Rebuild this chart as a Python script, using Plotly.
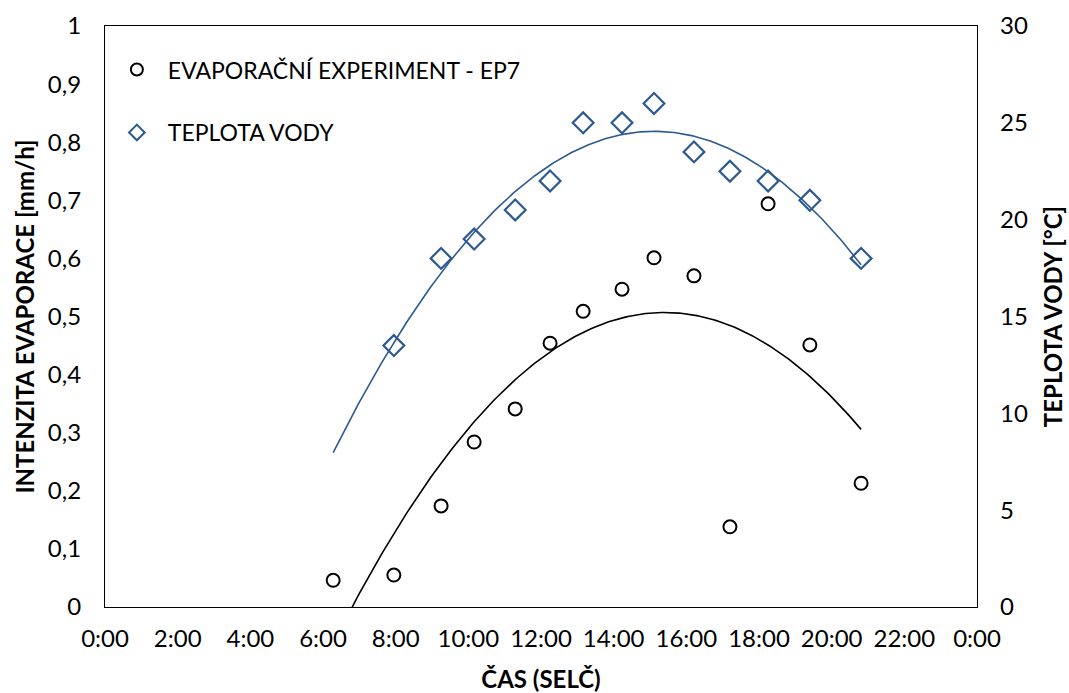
import numpy as np
import plotly.graph_objects as go

# Measurement times in decimal hours
time_h = [6.28, 7.95, 9.25, 10.16, 11.29, 12.25, 13.16, 14.23, 15.11, 16.21, 17.20, 18.25, 19.40, 20.81]
# Evaporation intensity [mm/h]
evaporation = [0.046, 0.055, 0.174, 0.284, 0.341, 0.454, 0.509, 0.547, 0.601, 0.570, 0.138, 0.694, 0.451, 0.213]
# Water temperature [°C] (no reading at the first time)
water_temp = [None, 13.5, 18.0, 19.0, 20.5, 22.0, 25.0, 25.0, 26.0, 23.5, 22.5, 22.0, 21.0, 18.0]

tick_vals = list(range(0, 25, 2))
tick_text = ["0:00", "2:00", "4:00", "6:00", "8:00", "10:00", "12:00", "14:00",
             "16:00", "18:00", "20:00", "22:00", "0:00"]

BLUE = "#2C5A91"
FONT = "Lato, Calibri, 'Open Sans', sans-serif"
FS = 24

t = np.array(time_h)
e = np.array(evaporation)
mask = np.array([v is not None for v in water_temp])
w = np.array([v if v is not None else np.nan for v in water_temp], dtype=float)

# Second-order polynomial trendlines
pe = np.polyfit(t, e, 2)
pw = np.polyfit(t[mask], w[mask], 2)
tt = np.linspace(t.min(), t.max(), 300)

fig = go.Figure()

fig.add_trace(go.Scatter(
    x=tt, y=np.polyval(pe, tt), mode="lines",
    line=dict(color="black", width=1.6), showlegend=False, hoverinfo="skip"))
fig.add_trace(go.Scatter(
    x=tt, y=np.polyval(pw, tt), mode="lines", yaxis="y2",
    line=dict(color=BLUE, width=1.6), showlegend=False, hoverinfo="skip"))

fig.add_trace(go.Scatter(
    x=time_h, y=evaporation, mode="markers", name="EVAPORAČNÍ EXPERIMENT - EP7",
    legendgroup="evap",
    marker=dict(symbol="circle-open", size=13, color="black", line=dict(width=2))))
fig.add_trace(go.Scatter(
    x=time_h, y=water_temp, mode="markers", name="TEPLOTA VODY", yaxis="y2",
    legendgroup="temp",
    marker=dict(symbol="diamond-open", size=16, color=BLUE, line=dict(width=2.2))))

fig.update_layout(
    width=1069, height=693,
    margin=dict(l=105, r=92, t=26, b=86),
    paper_bgcolor="white", plot_bgcolor="white",
    font=dict(family=FONT, size=FS, color="black"),
    separators=", ",
    xaxis=dict(
        range=[0, 24], tickvals=tick_vals, ticktext=tick_text, automargin=False,
        showgrid=False, zeroline=False, showline=True, mirror=True,
        linecolor="black", linewidth=1.2, ticks="", ticklabelstandoff=10,
        title=dict(text="<b>ČAS (SELČ)</b>", font=dict(size=FS), standoff=22),
    ),
    yaxis=dict(
        range=[0, 1], dtick=0.1, automargin=False,
        showgrid=False, zeroline=False, showline=True, mirror=True,
        linecolor="black", linewidth=1.2, ticks="", ticklabelstandoff=18,
        title=dict(text="<b>INTENZITA EVAPORACE [mm/h]</b>", font=dict(size=FS), standoff=6),
    ),
    yaxis2=dict(
        range=[0, 30], dtick=5, overlaying="y", side="right", automargin=False,
        showgrid=False, zeroline=False, showline=False, ticks="", ticklabelstandoff=22,
        title=dict(text="<b>TEPLOTA VODY [°C]</b>", font=dict(size=FS), standoff=18),
    ),
    legend=dict(
        x=0.001, y=0.962, xanchor="left", yanchor="top",
        bgcolor="rgba(0,0,0,0)", font=dict(size=23), tracegroupgap=30,
        itemsizing="constant", itemwidth=52,
    ),
)

fig.write_html("out.html")
